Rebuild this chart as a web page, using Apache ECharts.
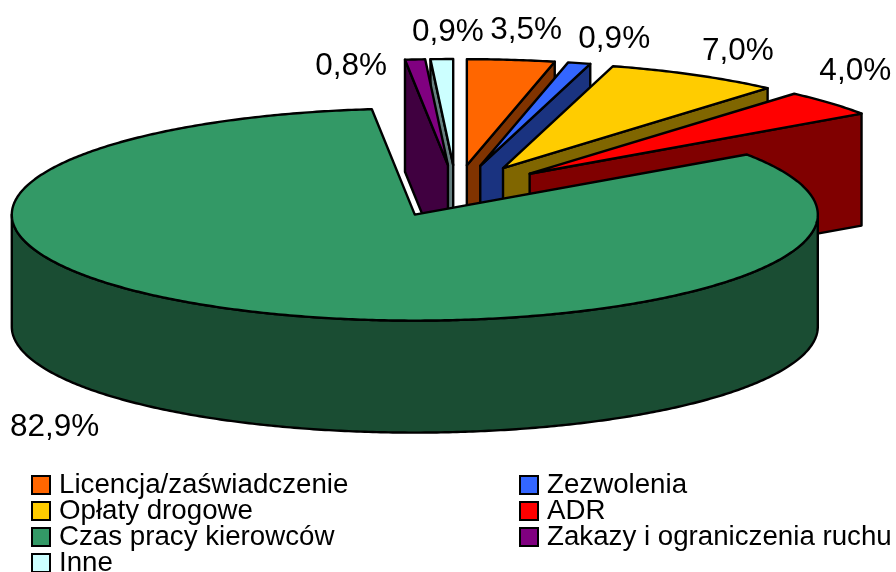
<!DOCTYPE html>
<html>
<head>
<meta charset="utf-8">
<style>
  html, body { margin: 0; padding: 0; background: #fff; }
  #chart { width: 896px; height: 572px; }
</style>
<script src="https://cdn.jsdelivr.net/npm/echarts@6/dist/echarts.min.js"></script>
</head>
<body>
<div id="chart"></div>
<script>
// dane
var categories = ['Licencja/zaświadczenie', 'Zezwolenia', 'Opłaty drogowe', 'ADR', 'Czas pracy kierowców', 'Zakazy i ograniczenia ruchu', 'Inne'];
var values = [3.5, 0.9, 7.0, 4.0, 82.9, 0.8, 0.9];
var topColors = ['#FF6600', '#3366FF', '#FFCC00', '#FF0000', '#339966', '#800080', '#CCFFFF'];
var sideColors = ['#803300', '#1A3380', '#806600', '#800000', '#1A4D33', '#400040', '#668080'];
// kolejność rysowania: od tyłu do przodu
var drawOrder = [6, 5, 0, 1, 2, 3, 4];
// przesunięcie etykiety względem punktu na krawędzi wycinka
var labelDx = [15, 35, 43, 25, -192, -64, 6];
var labelDy = [-30, -24, -24, -32, 4, 7, -27];

// geometria "3D" kołowego
var cx = 456, cy = 191, rx = 403, ry = 106, depth = 112, explode = 0.245;
var fontName = '"Liberation Sans", Arial, sans-serif';

var total = values.reduce(function (a, b) { return a + b; }, 0);
var starts = [];
values.reduce(function (acc, v, i) { starts[i] = acc; return acc + v; }, 0);

function toAngle(pct) { return pct / total * Math.PI * 2; }

function rimPoint(o, a, dy) {
  return [o[0] + rx * Math.sin(a), o[1] - ry * Math.cos(a) + (dy || 0)];
}

function arcPoints(o, a0, a1, dy) {
  var pts = [];
  var n = Math.max(2, Math.ceil(Math.abs(a1 - a0) / 0.01));
  for (var i = 0; i <= n; i++) {
    pts.push(rimPoint(o, a0 + (a1 - a0) * i / n, dy));
  }
  return pts;
}

function poly(points, fill) {
  return {
    type: 'polygon',
    shape: { points: points },
    style: { fill: fill, stroke: '#000', lineWidth: 2.4, lineJoin: 'round' }
  };
}

function renderSlice(idx) {
  return function () {
    var a0 = toAngle(starts[idx]);
    var a1 = toAngle(starts[idx] + values[idx]);
    var mid = (a0 + a1) / 2;
    var tip = [cx + explode * rx * Math.sin(mid), cy - explode * ry * Math.cos(mid)];
    var children = [];

    // ścianka początkowa widoczna gdy kąt w lewej połowie, końcowa gdy w prawej
    if (Math.sin(a0) < 0) {
      var s = rimPoint(tip, a0);
      children.push(poly([tip, s, [s[0], s[1] + depth], [tip[0], tip[1] + depth]], sideColors[idx]));
    }
    if (Math.sin(a1) > 0) {
      var e = rimPoint(tip, a1);
      children.push(poly([tip, e, [e[0], e[1] + depth], [tip[0], tip[1] + depth]], sideColors[idx]));
    }
    // zewnętrzna ściana (tylko przednia część elipsy)
    var from = Math.max(a0, Math.PI / 2), to = Math.min(a1, Math.PI * 1.5);
    if (to > from) {
      children.push(poly(arcPoints(tip, from, to).concat(arcPoints(tip, to, from, depth)), sideColors[idx]));
    }
    // góra wycinka
    children.push(poly([tip].concat(arcPoints(tip, a0, a1)), topColors[idx]));

    // etykieta
    var rim = rimPoint(tip, mid, mid > Math.PI / 2 && mid < Math.PI * 1.5 ? depth : 0);
    children.push({
      type: 'text',
      style: {
        text: values[idx].toFixed(1).replace('.', ',') + '%',
        x: rim[0] + labelDx[idx],
        y: rim[1] + labelDy[idx],
        fill: '#000',
        fontSize: 31.5,
        fontFamily: fontName,
        align: 'center',
        verticalAlign: 'middle'
      }
    });
    return { type: 'group', children: children };
  };
}

var chart = echarts.init(document.getElementById('chart'), null, { renderer: 'canvas' });
chart.setOption({
  animation: false,
  backgroundColor: '#fff',
  legend: {
    data: categories,
    left: 31,
    top: 471,
    width: 1000,
    padding: 0,
    itemGap: -2,
    itemWidth: 18,
    itemHeight: 18,
    icon: 'rect',
    selectedMode: false,
    itemStyle: { borderColor: '#000', borderWidth: 2 },
    textStyle: {
      fontSize: 27.7,
      fontFamily: fontName,
      color: '#000',
      width: 462,
      height: 26,
      lineHeight: 26,
      padding: [0, 0, 0, 4]
    }
  },
  series: categories.map(function (name, i) {
    return {
      type: 'custom',
      name: name,
      coordinateSystem: 'none',
      silent: true,
      z: 2 + drawOrder.indexOf(i),
      itemStyle: { color: topColors[i] },
      data: [values[i]],
      renderItem: renderSlice(i)
    };
  })
});
</script>
</body>
</html>
